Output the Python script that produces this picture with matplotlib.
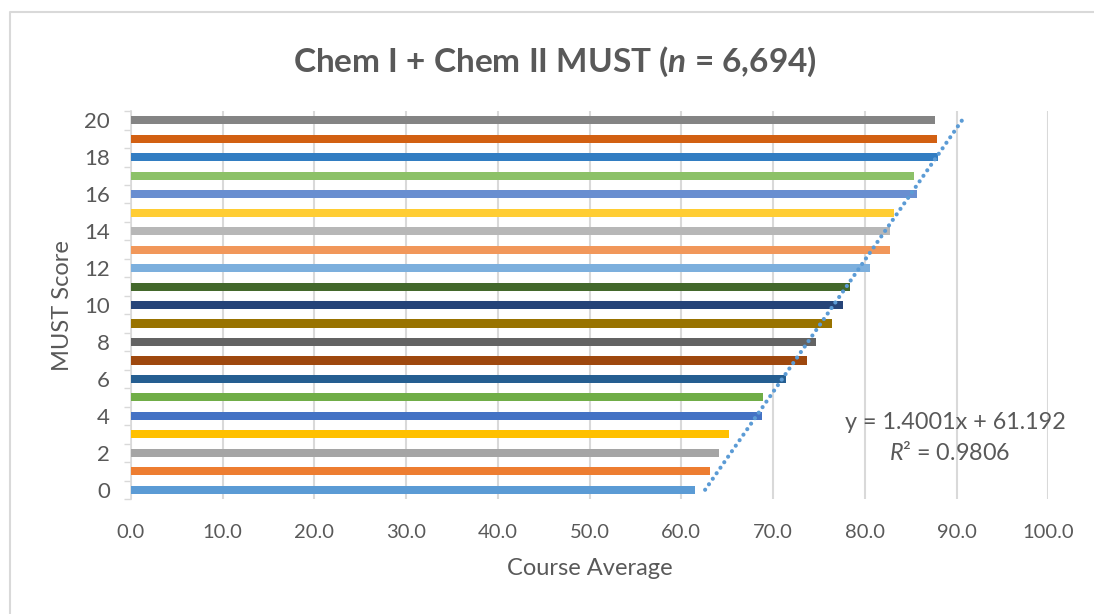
import numpy as np
import matplotlib
matplotlib.use("Agg")
import matplotlib.pyplot as plt
from matplotlib.lines import Line2D

plt.rcParams['font.family'] = ['Lato', 'DejaVu Sans']
plt.rcParams['mathtext.fontset'] = 'custom'
plt.rcParams['mathtext.rm'] = 'Lato'
plt.rcParams['mathtext.it'] = 'Lato:italic'
plt.rcParams['mathtext.bf'] = 'Lato:bold'
plt.rcParams['mathtext.bfit'] = 'Lato:bold:italic'

# data
scores = list(range(0, 21))
course_avg = [61.5, 63.1, 64.1, 65.2, 68.8, 68.9, 71.4, 73.7, 74.7, 76.4, 77.6,
              78.4, 80.6, 82.7, 82.8, 83.2, 85.7, 85.4, 88.0, 87.9, 87.7]
bar_colors = ['#5B9BD5', '#ED7D31', '#A5A5A5', '#FFC000', '#4472C4', '#70AD47',
              '#255E91', '#9E480E', '#636363', '#997300', '#264478', '#43682B',
              '#7CAFDD', '#F1975A', '#B7B7B7', '#FFCD33', '#698ED0', '#8CC168',
              '#327DC2', '#D26012', '#848484']
slope, intercept, r2 = 1.4001, 61.192, 0.9806

txt = '#595959'
fig = plt.figure(figsize=(10.94, 6.14), dpi=100)
ax = fig.add_axes([0.1197, 0.1873, 0.8385, 0.6317])

ypos = np.arange(len(scores))
ax.barh(ypos, course_avg, height=0.44, color=bar_colors, zorder=3)

# linear trendline (Excel uses category index 1..21)
trend = slope * (ypos + 1) + intercept
ax.plot(trend, ypos, linestyle=(0, (0.01, 1.6)), color='#5B9BD5', lw=3.0,
        dash_capstyle='round', zorder=4)

ax.set_xlim(0, 100)
ax.set_ylim(-0.5, 20.5)
ax.set_xticks(np.arange(0, 101, 10))
ax.set_xticklabels([f"{v:.1f}" for v in np.arange(0, 101, 10)])
ax.set_yticks(ypos[::2])
ax.set_yticklabels([str(s) for s in scores[::2]])
ax.set_yticks(np.arange(-0.5, 21, 1), minor=True)
ax.tick_params(axis='y', which='major', length=0, labelsize=16, colors=txt, pad=15)
ax.tick_params(axis='y', which='minor', length=5, color='#D9D9D9', width=1)
ax.tick_params(axis='x', length=0, labelsize=14.5, colors=txt, pad=18)
ax.grid(axis='x', color='#D9D9D9', lw=1.5, zorder=0)
for s in ['top', 'right', 'bottom']:
    ax.spines[s].set_visible(False)
ax.spines['left'].set_color('#D9D9D9')
ax.spines['left'].set_linewidth(1.2)

ax.set_xlabel('Course Average', fontsize=17, color=txt, labelpad=12)
ax.set_ylabel('MUST Score', fontsize=17, color=txt, labelpad=8)
fig.text(0.507, 0.899, r'Chem I + Chem II MUST ($\mathbfit{n}$ = 6,694)',
         ha='center', va='center', fontsize=24, fontweight='bold', color=txt)

fig.text(0.873, 0.312, f'y = {slope}x + {intercept}', ha='center', va='center',
         fontsize=16.8, color=txt)
fig.text(0.868, 0.263, r'$\mathit{R}$² = ' + f'{r2}', ha='center', va='center',
         fontsize=16.8, color=txt)

# chart area border (only top and left visible in the reference)
fig.lines.append(Line2D([0.0095, 0.0095, 1.0], [0.0, 0.981, 0.981],
                        transform=fig.transFigure, color='#D9D9D9', lw=1.5))

fig.savefig('out.png', dpi=100)
